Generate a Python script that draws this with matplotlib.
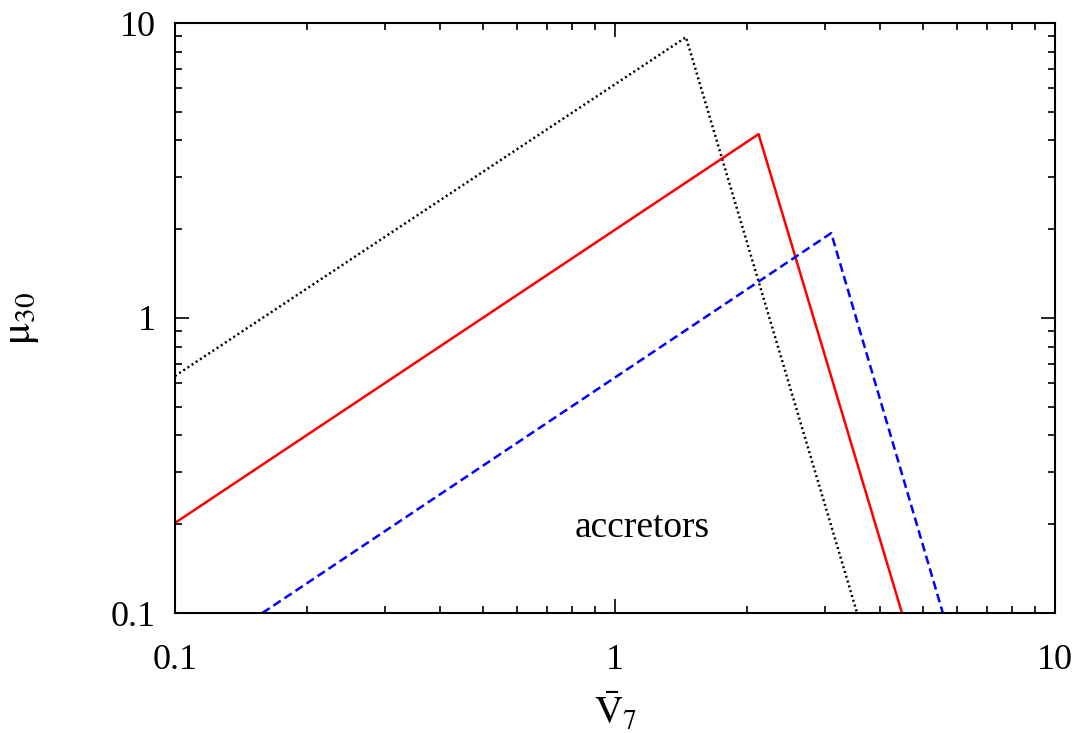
import matplotlib.pyplot as plt
from matplotlib.ticker import LogLocator, NullFormatter, FixedFormatter, FixedLocator

# break points of the three curves (start, peak, end)
v_black = [0.1, 1.45, 3.55]
mu_black = [0.636, 8.95, 0.1]

v_red = [0.1, 2.12, 4.49]
mu_red = [0.202, 4.2, 0.1]

v_blue = [0.158, 3.1, 5.56]
mu_blue = [0.1, 1.94, 0.1]

major_ticks = [0.1, 1, 10]
tick_labels = ['0.1', '1', '10']

plt.rcParams['font.family'] = ['Liberation Serif', 'DejaVu Serif']
plt.rcParams['mathtext.fontset'] = 'stix'

fig = plt.figure(figsize=(10.84, 7.33), dpi=100)
ax = fig.add_axes([175 / 1084, 1 - 613 / 733, 880 / 1084, 590 / 733])

ax.plot(v_black, mu_black, color='black', lw=1.8, ls=(0, (0.8, 1.2)))
ax.plot(v_red, mu_red, color='red', lw=1.8)
ax.plot(v_blue, mu_blue, color='blue', lw=1.8, ls=(0, (3.5, 1.8)))

ax.set_xscale('log')
ax.set_yscale('log')
ax.set_xlim(0.1, 10)
ax.set_ylim(0.1, 10)

for axis in (ax.xaxis, ax.yaxis):
    axis.set_major_locator(FixedLocator(major_ticks))
    axis.set_major_formatter(FixedFormatter(tick_labels))
    axis.set_minor_locator(LogLocator(base=10, subs=range(2, 10)))
    axis.set_minor_formatter(NullFormatter())

ax.tick_params(which='both', direction='in', top=True, right=True, labelsize=26, width=1.2)
ax.tick_params(which='major', length=10)
ax.tick_params(which='minor', length=5)
ax.tick_params(axis='x', which='major', pad=22)
ax.tick_params(axis='y', which='major', pad=14)
for sp in ax.spines.values():
    sp.set_linewidth(1.5)

ax.text(1.15, 0.195, 'accretors', fontsize=27, ha='center', va='center')

ax.set_xlabel(r'$\bar{\mathrm{V}}_7$', fontsize=28, labelpad=11)
ax.set_ylabel(r'$\mathrm{\mu}_{30}$', fontsize=30, labelpad=50)

fig.savefig('out.png', dpi=100)
